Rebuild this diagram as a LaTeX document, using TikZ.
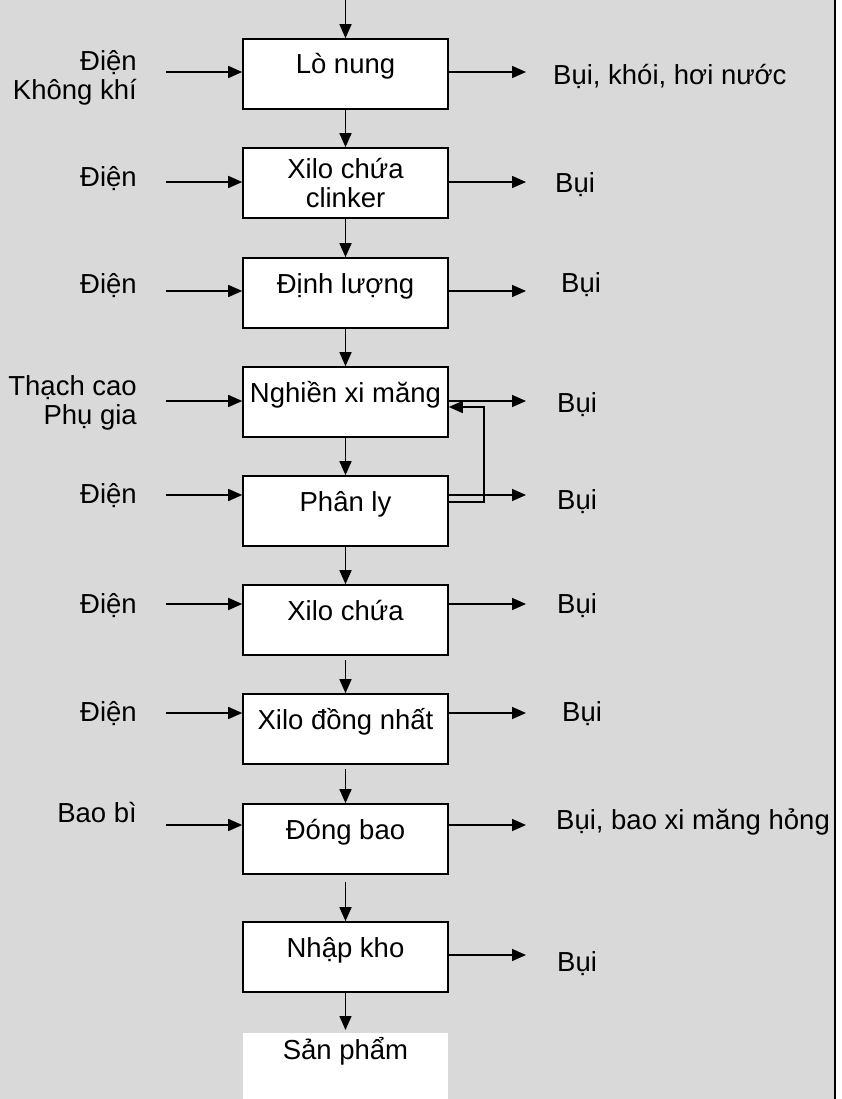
\documentclass[tikz,border=0pt]{standalone}
\usepackage{fontspec}
\setmainfont{Liberation Sans}
\usepackage{xcolor}
\usepackage{tikz}
\usetikzlibrary{arrows.meta}
\definecolor{nengray}{RGB}{217,217,217}

\begin{document}
\begin{tikzpicture}[x=1pt,y=-1pt,
	font=\fontsize{27.5}{29}\selectfont,
	buoc/.style={draw, fill=white, line width=1.6pt, minimum width=205pt, minimum height=70pt, inner sep=0pt, text height=35pt, text depth=35pt, align=center},
	dong/.style={-{Triangle[length=14pt,width=12pt]}, line width=1.5pt},
	vao/.style={anchor=east, align=right, inner sep=0pt},
	ra/.style={anchor=west, inner sep=0pt}]
	\useasboundingbox (0,0) rectangle (841,1099);
	\fill[nengray] (0,0) rectangle (834,1099);
	\draw[line width=2pt] (835,0)--(835,1099);
	% cac buoc
	\node[buoc] (lo) at (345.5,74) {Lò nung};
	\node[buoc, text height=60pt, text depth=10pt] (xl) at (345.5,183) {Xilo chứa\\clinker};
	\node[buoc] (dl) at (345.5,293) {Định lượng};
	\node[buoc] (ng) at (345.5,402) {Nghiền xi măng};
	\node[buoc] (ph) at (345.5,511) {Phân ly};
	\node[buoc] (xc) at (345.5,620) {Xilo chứa};
	\node[buoc] (dn) at (345.5,729) {Xilo đồng nhất};
	\node[buoc] (db) at (345.5,839) {Đóng bao};
	\node[buoc] (nk) at (345.5,957) {Nhập kho};
	\node[fill=white, minimum width=205pt, minimum height=66pt, inner sep=0pt, text height=26pt, text depth=40pt, anchor=north] (sp) at (345.5,1033) {Sản phẩm};
	% duong chinh
	\coordinate (dau) at (345.5,0);
	\draw[dong] (dau)--(lo.north);
	\draw[dong] (lo)--(xl);
	\draw[dong] (xl)--(dl);
	\draw[dong] (dl)--(ng);
	\draw[dong] (ng)--(ph);
	\draw[dong] (ph)--(xc);
	\draw[dong, shorten <=4pt] (xc)--(dn);
	\draw[dong, shorten <=4pt] (dn)--(db);
	\draw[dong, shorten <=7pt] (db)--(nk);
	\draw[dong, shorten >=3pt] (nk)--(sp);
	% dau vao
	\node[vao] (v1) at (137,78) {Điện\\Không khí};
	\node[vao] (v2) at (137,179) {Điện};
	\node[vao] (v3) at (137,286) {Điện};
	\node[vao] (v4) at (137,403) {Thạch cao\\Phụ gia};
	\node[vao] (v5) at (137,496) {Điện};
	\node[vao] (v6) at (137,606) {Điện};
	\node[vao] (v7) at (137,714) {Điện};
	\node[vao] (v8) at (137,813) {Bao bì};
	\coordinate (a1) at (166,72);
	\coordinate (a2) at (166,182);
	\coordinate (a3) at (166,291);
	\coordinate (a4) at (166,401);
	\coordinate (a5) at (166,495);
	\coordinate (a6) at (166,604);
	\coordinate (a7) at (166,713);
	\coordinate (a8) at (166,825);
	\draw[dong] (a1)--(a1 -| lo.west);
	\draw[dong] (a2)--(a2 -| xl.west);
	\draw[dong] (a3)--(a3 -| dl.west);
	\draw[dong] (a4)--(a4 -| ng.west);
	\draw[dong] (a5)--(a5 -| ph.west);
	\draw[dong] (a6)--(a6 -| xc.west);
	\draw[dong] (a7)--(a7 -| dn.west);
	\draw[dong] (a8)--(a8 -| db.west);
	% dau ra
	\coordinate (b1) at (526,72);
	\coordinate (b2) at (526,182);
	\coordinate (b3) at (526,291);
	\coordinate (b4) at (526,401);
	\coordinate (b5) at (526,495);
	\coordinate (b6) at (526,604);
	\coordinate (b7) at (526,713);
	\coordinate (b8) at (526,825);
	\coordinate (b9) at (526,955);
	\draw[dong] (b1 -| lo.east)--(b1);
	\draw[dong] (b2 -| xl.east)--(b2);
	\draw[dong] (b3 -| dl.east)--(b3);
	\draw[dong] (b4 -| ng.east)--(b4);
	\draw[dong] (b5 -| ph.east)--(b5);
	\draw[dong] (b6 -| xc.east)--(b6);
	\draw[dong] (b7 -| dn.east)--(b7);
	\draw[dong] (b8 -| db.east)--(b8);
	\draw[dong] (b9 -| nk.east)--(b9);
	\node[ra] (r1) at (553,76) {Bụi, khói, hơi nước};
	\node[ra] (r2) at (555,185) {Bụi};
	\node[ra] (r3) at (561,285) {Bụi};
	\node[ra] (r4) at (557,405) {Bụi};
	\node[ra] (r5) at (557,502) {Bụi};
	\node[ra] (r6) at (557,606) {Bụi};
	\node[ra] (r7) at (562,714) {Bụi};
	\node[ra] (r8) at (556,822) {Bụi, bao xi măng hỏng};
	\node[ra] (r9) at (557,964) {Bụi};
	% vong hoi luu
	\coordinate (vong) at (484,407);
	\draw[dong] ([yshift=9pt]ph.east) -| (vong) -- (vong -| ng.east);
\end{tikzpicture}
\end{document}
